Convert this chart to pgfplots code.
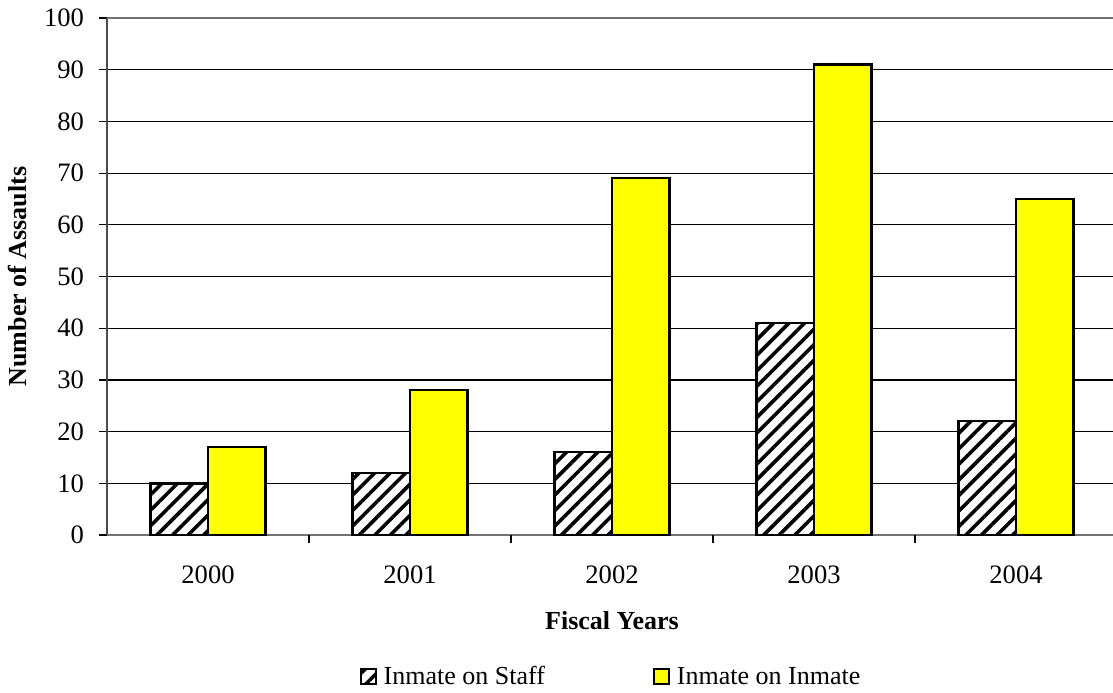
\documentclass[border=0pt]{standalone}
\usepackage{fontspec}
\setmainfont{Liberation Serif}
\usepackage{pgfplots}
\pgfplotsset{compat=1.18}
\usetikzlibrary{patterns.meta,calc}
\definecolor{baryellow}{RGB}{255,255,0}
\begin{document}
\begin{tikzpicture}
\begin{axis}[
  name=ax,
  scale only axis, width=503pt, height=258.5pt,
  xmin=-0.5, xmax=4.48, ymin=0, ymax=100,
  axis x line*=bottom, axis y line*=left,
  x axis line style={draw=black!55, line width=1.4pt, -},
  y axis line style={draw=black!70, line width=1pt, -},
  xtick={0,1,2,3,4}, xticklabels={2000,2001,2002,2003,2004},
  x tick style={draw=none},
  extra x ticks={0.5,1.5,2.5,3.5}, extra x tick labels={},
  extra x tick style={x tick style={draw=black, line width=0.6pt}, major tick length=4pt, grid=none},
  ytick={0,10,...,100},
  y tick style={draw=black, line width=0.6pt}, major tick length=4pt,
  tick align=outside,
  ymajorgrids, grid style={black, line width=0.6pt},
  /pgf/number format/assume math mode=true,
  tick label style={font=\fontsize{13.3}{15}\selectfont},
  xticklabel style={yshift=-8pt},
  yticklabel style={xshift=-4pt},
  xlabel={\textbf{Fiscal Years}},
  xlabel style={at={(axis description cs:0.502,-0.166)}, anchor=center, font=\fontsize{13}{15}\selectfont},
  ylabel={\textbf{Number of Assaults}},
  ylabel style={at={(axis description cs:-0.0885,0.5)}, anchor=center, font=\fontsize{13}{15}\selectfont},
  legend style={at={(axis description cs:0.502,-0.275)}, anchor=center, draw=none,
    legend columns=2, font=\fontsize{13}{15}\selectfont,
    /tikz/every odd column/.append style={column sep=1.5pt},
    /tikz/every even column/.append style={column sep=52pt}},
  legend image code/.code={\draw[#1, line width=1pt] (0pt,-3.3pt) rectangle (7.5pt,4.2pt);},
  clip=false,
]
\addplot[ybar, bar width=0.285, bar shift=-0.1425, draw=black, line width=1.2pt,
  preaction={fill=white},
  pattern={Lines[angle=45, distance=5.5pt, line width=1.8pt]}]
  coordinates {(0,10) (1,12) (2,16) (3,41) (4,22)};
\addplot[ybar, bar width=0.285, bar shift=0.1425, draw=black, line width=1.2pt,
  fill=baryellow]
  coordinates {(0,17) (1,28) (2,69) (3,91) (4,65)};
\legend{Inmate on Staff, Inmate on Inmate}
\draw[black!55, line width=1.4pt] (rel axis cs:0,1) -- (rel axis cs:1,1);
\end{axis}
\pgfresetboundingbox
\path[use as bounding box] ($(ax.south west)+(-53.5pt,-78.5pt)$) rectangle ($(ax.north east)+(0pt,9pt)$);
\end{tikzpicture}
\end{document}
